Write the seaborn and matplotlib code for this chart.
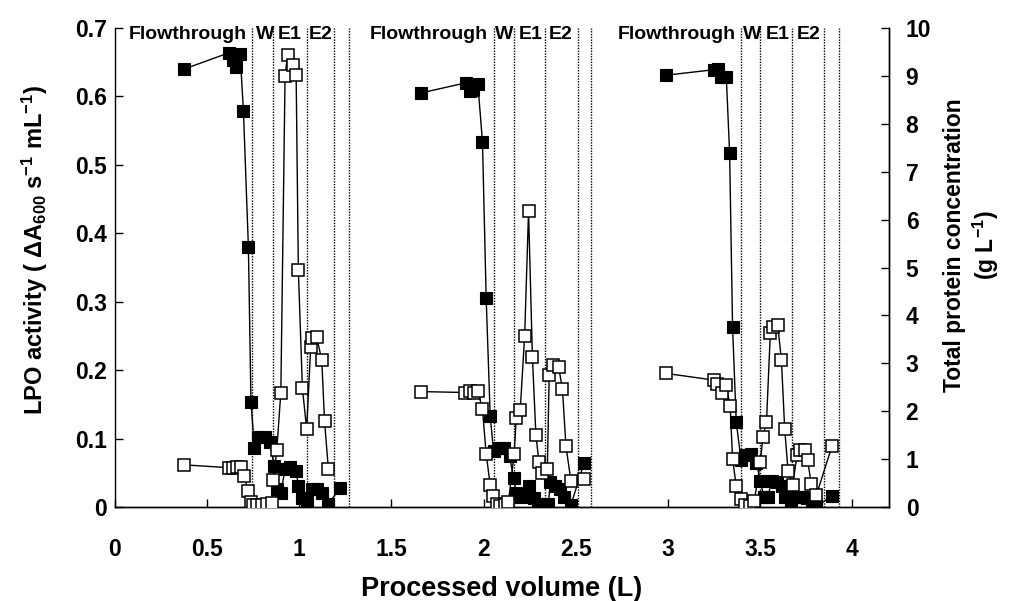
import matplotlib
matplotlib.use("Agg")
import matplotlib.pyplot as plt
import seaborn as sns
import pandas as pd

# ---------------- data ----------------
# LPO activity (filled squares, left axis)
lpo_cycle = [1]*26 + [2]*26 + [3]*26
lpo_volume = [
    0.375, 0.621, 0.642, 0.657, 0.679, 0.697, 0.724, 0.738, 0.757, 0.778,
    0.814, 0.841, 0.863, 0.878, 0.900, 0.923, 0.950, 0.983, 0.995, 1.013,
    1.040, 1.068, 1.095, 1.122, 1.158, 1.221,
    1.659, 1.906, 1.927, 1.945, 1.969, 1.994, 2.014, 2.036, 2.054, 2.081,
    2.112, 2.141, 2.163, 2.178, 2.203, 2.244, 2.271, 2.298, 2.325, 2.352,
    2.362, 2.389, 2.416, 2.438, 2.474, 2.546,
    2.989, 3.248, 3.270, 3.288, 3.317, 3.335, 3.351, 3.371, 3.397, 3.420,
    3.451, 3.480, 3.502, 3.520, 3.543, 3.563, 3.591, 3.619, 3.637, 3.668,
    3.697, 3.728, 3.755, 3.782, 3.806, 3.891,
]
lpo_activity = [
    0.640, 0.664, 0.653, 0.643, 0.662, 0.579, 0.380, 0.153, 0.086, 0.102,
    0.103, 0.095, 0.060, 0.027, 0.021, 0.055, 0.058, 0.053, 0.031, 0.013,
    0.009, 0.026, 0.027, 0.020, 0.004, 0.028,
    0.605, 0.620, 0.608, 0.609, 0.618, 0.534, 0.306, 0.133, 0.082, 0.086,
    0.086, 0.074, 0.042, 0.020, 0.015, 0.030, 0.013, 0.004, 0.004, 0.004,
    0.037, 0.031, 0.027, 0.015, 0.003, 0.065,
    0.631, 0.639, 0.640, 0.628, 0.629, 0.517, 0.263, 0.124, 0.069, 0.076,
    0.077, 0.065, 0.038, 0.015, 0.015, 0.038, 0.037, 0.030, 0.015, 0.003,
    0.015, 0.015, 0.013, 0.004, 0.001, 0.016,
]

# Total protein (open squares, right axis)
prot_cycle = [1]*29 + [2]*30 + [3]*29
prot_volume = [
    0.375, 0.621, 0.642, 0.664, 0.684, 0.700, 0.724, 0.738, 0.751, 0.769,
    0.796, 0.824, 0.851, 0.859, 0.878, 0.900, 0.923, 0.937, 0.965, 0.983,
    0.995, 1.017, 1.040, 1.062, 1.071, 1.095, 1.122, 1.137, 1.158,
    1.659, 1.900, 1.927, 1.949, 1.969, 1.994, 2.014, 2.036, 2.050, 2.072,
    2.090, 2.117, 2.135, 2.166, 2.177, 2.199, 2.223, 2.244, 2.265, 2.284,
    2.301, 2.319, 2.346, 2.356, 2.379, 2.407, 2.428, 2.447, 2.474, 2.546,
    2.989, 3.248, 3.266, 3.293, 3.315, 3.338, 3.351, 3.371, 3.397, 3.420,
    3.447, 3.469, 3.502, 3.515, 3.535, 3.556, 3.571, 3.596, 3.616, 3.634,
    3.652, 3.677, 3.701, 3.719, 3.742, 3.758, 3.778, 3.806, 3.891,
]
prot_conc = [
    0.88, 0.82, 0.82, 0.83, 0.83, 0.65, 0.34, 0.11, 0.04, 0.04,
    0.04, 0.06, 0.08, 0.56, 1.19, 2.39, 9.00, 9.44, 9.23, 9.02,
    4.95, 2.48, 1.63, 3.33, 3.52, 3.54, 3.07, 1.80, 0.79,
    2.41, 2.39, 2.42, 2.37, 2.42, 2.04, 1.11, 0.46, 0.22, 0.06,
    0.02, 0.04, 0.11, 1.11, 1.85, 2.03, 3.58, 6.17, 3.13, 1.50,
    0.93, 0.72, 0.79, 2.76, 2.96, 2.93, 2.46, 1.27, 0.55, 0.58,
    2.79, 2.65, 2.57, 2.39, 2.55, 2.11, 1.00, 0.44, 0.16, 0.04,
    0.02, 0.13, 0.93, 1.46, 1.77, 3.64, 3.76, 3.80, 3.07, 1.62,
    0.76, 0.46, 1.09, 1.19, 1.19, 0.98, 0.48, 0.25, 1.28,
]

# Phase boundaries (dotted lines) and phase labels
phase_bounds = [0.742, 0.859, 1.044, 1.189, 1.272,
                2.054, 2.166, 2.334, 2.515, 2.584,
                3.397, 3.502, 3.674, 3.846, 3.931]
phase_labels = ["Flowthrough", "W", "E1", "E2"] * 3
phase_label_x = [0.397, 0.814, 0.950, 1.117,
                 1.705, 2.112, 2.253, 2.416,
                 3.051, 3.458, 3.594, 3.762]

x_ticks = [0, 0.5, 1, 1.5, 2, 2.5, 3, 3.5, 4]
y_left_ticks = [0, 0.1, 0.2, 0.3, 0.4, 0.5, 0.6, 0.7]
y_right_ticks = list(range(0, 11))

# ---------------- style ----------------
sns.set_style("ticks")
plt.rcParams["font.family"] = ["Liberation Sans", "DejaVu Sans"]
plt.rcParams["font.weight"] = "bold"
for key in ("text.color", "axes.labelcolor", "xtick.color", "ytick.color", "axes.edgecolor"):
    plt.rcParams[key] = "black"
plt.rcParams["mathtext.fontset"] = "custom"
plt.rcParams["mathtext.rm"] = "Liberation Sans:bold"
plt.rcParams["mathtext.bf"] = "Liberation Sans:bold"
plt.rcParams["mathtext.it"] = "Liberation Sans:bold"
plt.rcParams["mathtext.default"] = "rm"

lpo_df = pd.DataFrame({"volume": lpo_volume, "activity": lpo_activity, "cycle": lpo_cycle})
prot_df = pd.DataFrame({"volume": prot_volume, "conc": prot_conc, "cycle": prot_cycle})

fig = plt.figure(figsize=(10.12, 6.01), dpi=100)
ax = fig.add_axes([0.1136, 0.1564, 0.7649, 0.797])
ax2 = ax.twinx()

for xb in phase_bounds:
    ax.axvline(xb, color="black", linestyle=(0, (1, 1)), linewidth=1.0, zorder=1)

sns.lineplot(data=lpo_df, x="volume", y="activity", units="cycle", estimator=None,
             sort=False, ax=ax, color="black", linewidth=1.0, marker="s",
             markersize=9, markerfacecolor="black", markeredgecolor="black",
             markeredgewidth=0.8, zorder=3)
sns.lineplot(data=prot_df, x="volume", y="conc", units="cycle", estimator=None,
             sort=False, ax=ax2, color="black", linewidth=1.0, marker="s",
             markersize=8.5, markerfacecolor="white", markeredgecolor="black",
             markeredgewidth=1.1, zorder=3)

ax.set_xlim(0, 4.2)
ax.set_ylim(0, 0.7)
ax2.set_ylim(0, 10)
ax.set_xticks(x_ticks)
ax.set_xticklabels([f"{t:g}" for t in x_ticks])
ax.set_yticks(y_left_ticks)
ax.set_yticklabels(["0"] + [f"{t:.1f}" for t in y_left_ticks[1:]])
ax2.set_yticks(y_right_ticks)
ax2.set_yticklabels([str(t) for t in y_right_ticks])

for a in (ax, ax2):
    a.spines["top"].set_visible(False)
    for s in ("left", "right", "bottom"):
        a.spines[s].set_linewidth(1.0)
        a.spines[s].set_color("black")
    a.tick_params(direction="in", length=6, width=1.0, labelsize=16.5, colors="black")
ax.tick_params(axis="x", pad=22)
ax.tick_params(axis="y", pad=6)
ax2.tick_params(axis="y", pad=12)
ax2.spines["left"].set_visible(False)

for lab in ax.get_xticklabels() + ax.get_yticklabels() + ax2.get_yticklabels():
    lab.set_fontweight("bold")

ax.set_xlabel("Processed volume (L)", fontsize=19.5, fontweight="bold")
ax.xaxis.set_label_coords(0.5, -0.172)
ax.xaxis.label.set_va("center")
ax.set_ylabel(r"LPO activity ( $\Delta$A$_{600}$ s$^{-1}$ mL$^{-1}$)",
              fontsize=17, fontweight="bold")
ax.yaxis.set_label_coords(-0.103, 0.537)
ax.yaxis.label.set_va("center")
ax2.set_ylabel("Total protein concentration\n(g L$^{-1}$)", fontsize=16.5,
               fontweight="bold", rotation=90, linespacing=1.2)
ax2.yaxis.set_label_coords(1.107, 0.547)
ax2.yaxis.label.set_va("center")
ax2.yaxis.label.set_ha("center")

for lx, lt in zip(phase_label_x, phase_labels):
    ax.text(lx, 0.690, lt, ha="center", va="center", fontsize=14,
            fontweight="bold", color="black", zorder=4)

fig.savefig("out.png", dpi=100)
